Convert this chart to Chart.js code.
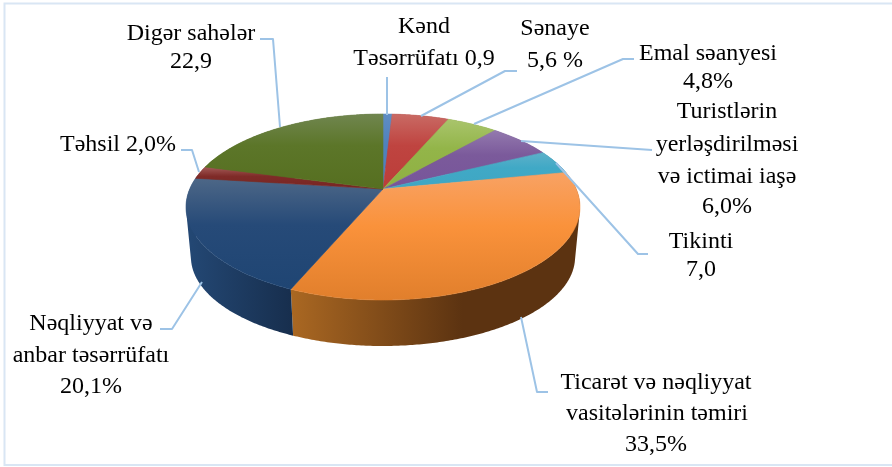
<!DOCTYPE html>
<html><head><meta charset="utf-8">
<script src="https://cdn.jsdelivr.net/npm/chart.js@4"></script>
<style>html,body{margin:0;padding:0;background:#fff;overflow:hidden}#w{position:absolute;left:0;top:0;width:892px;height:467px}</style>
</head><body><div id="w"><canvas id="c" width="892" height="467"></canvas></div>
<script>
const categories = ["Kənd Təsərrüfatı","Sənaye","Emal səanyesi","Turistlərin yerləşdirilməsi və ictimai iaşə","Tikinti","Ticarət və nəqliyyat vasitələrinin təmiri","Nəqliyyat və anbar təsərrüfatı","Təhsil","Digər sahələr"];
const sliceShares = [0.9,5.6,5.0,6.2,4.2,34.4,20.5,2.2,20.8];
const topLight = ["#5f8dc4","#c96a64","#a9c46c","#9379ae","#5db0c9","#f8a264","#4d6787","#a35a57","#70864f"];
const topMain  = ["#4f81bd","#bf4440","#93b549","#7b5a9b","#40a9c6","#fa923b","#264a78","#7f2b28","#5c7629"];
const topLow   = ["#4f81bd","#bb3d39","#8fb042","#77559a","#3fa6c3","#e17f2c","#1f4573","#772522","#566f20"];
const wallLeft = ["#2f5d90","#8c2f2c","#6f8a35","#5c4375","#2e7f95","#a96722","#234773","#5e1f1d","#44591e"];
const wallRight= ["#2f5d90","#8c2f2c","#6f8a35","#5c4375","#2e7f95","#5c3311","#172e4d","#5e1f1d","#44591e"];
const labelLines = [
 ["Kənd",424,33],["Təsərrüfatı 0,9",424,65],
 ["Sənaye",555,35],["5,6 %",555,67],
 ["Emal səanyesi",708,60],["4,8%",708,88],
 ["Turistlərin",727,118],["yerləşdirilməsi",727,151],["və ictimai iaşə",727,183],["6,0%",727,213],
 ["Tikinti",701,248],["7,0",701,276],
 ["Ticarət və nəqliyyat",656,389],["vasitələrinin təmiri",657,420],["33,5%",656,451],
 ["Nəqliyyat və",91,330],["anbar təsərrüfatı",91,362],["20,1%",91,393],
 ["Digər sahələr",191,40],["22,9",191,68],
 ["Təhsil 2,0%",118,151]
];
const leaderLines = [
 [[260,39],[273,39],[280,127]],
 [[387,77],[387,115]],
 [[517,71],[505,71],[421,116]],
 [[634,59],[623,59],[474,124]],
 [[652,150],[521,141]],
 [[648,254],[638,254],[556,163]],
 [[548,392],[537,392],[521,317]],
 [[160,329],[172,329],[202,282]],
 [[181,150],[192,150],[199,172]]
];
const persp = -0.1935, semiY = 93/197, apexUp = 18/197, wallDrop = 50/197, wallSX = 0.975, wallSY = 0.957;

function projector(el){
  const Rx = el.outerRadius*Math.sqrt(1-persp*persp);
  const k = (el.outerRadius*semiY + el.outerRadius*apexUp)*(1+persp);
  const cy = el.y - el.outerRadius*apexUp;
  return (a)=>{
    const th = a+Math.PI/2, u=Math.sin(th), v=-Math.cos(th), d=1+persp*v;
    return [el.x+Rx*u/d, cy+k*v/d];
  };
}
function rim(el){
  const p=projector(el), pts=[], n=Math.max(3,Math.ceil((el.endAngle-el.startAngle)/0.01));
  for(let i=0;i<=n;i++) pts.push(p(el.startAngle+(el.endAngle-el.startAngle)*i/n));
  return pts;
}
function area(q){
  let s=0;
  q.forEach((a,i)=>{const b=q[(i+1)%q.length]; s+=a[0]*b[1]-b[0]*a[1];});
  return s;
}
const pie3d = {
  id:'pie3d',
  beforeDraw(chart){
    const c=chart.ctx; c.save();
    c.strokeStyle='#d9e6f4'; c.lineWidth=2;
    c.beginPath(); c.moveTo(892,3.5); c.lineTo(4.5,3.5); c.lineTo(4.5,465); c.lineTo(892,465); c.stroke();
    c.restore();
  },
  beforeDatasetDraw(chart){
    const c=chart.ctx, arcs=chart.getDatasetMeta(0).data;
    c.save();
    arcs.forEach((el,i)=>{
      const r=el.outerRadius, top=rim(el);
      const low=top.map(([x,y])=>[el.x+(x-el.x)*wallSX, el.y+r*wallDrop+(y-el.y)*wallSY]);
      const xs=low.map(q=>q[0]);
      const minX=Math.min(...xs), maxX=Math.max(...xs);
      const g=c.createLinearGradient(minX,0,minX+(maxX-minX)*(i===5?0.6:1),0);
      g.addColorStop(0,wallLeft[i]); g.addColorStop(1,wallRight[i]);
      c.beginPath();
      for(let j=0;j<top.length-1;j++){
        let q=[top[j],top[j+1],low[j+1],low[j]];
        if(area(q)<0) q=q.slice().reverse();
        q.forEach(([x,y],m)=>m?c.lineTo(x,y):c.moveTo(x,y));
        c.closePath();
      }
      c.fillStyle=g; c.fill('nonzero');
    });
    arcs.forEach((el,i)=>{
      const r=el.outerRadius, top=rim(el), ax=el.x, ay=el.y-r*apexUp;
      const ys=top.map(q=>q[1]).concat(ay);
      const y0=Math.min(...ys), y1=Math.max(...ys);
      const g=c.createLinearGradient(0,y0,0,y1);
      g.addColorStop(0,topLight[i]); g.addColorStop(0.42,topMain[i]); g.addColorStop(1,topLow[i]);
      c.beginPath(); c.moveTo(ax,ay);
      top.forEach(([x,y])=>c.lineTo(x,y));
      c.closePath(); c.fillStyle=g; c.fill();
      c.strokeStyle=g; c.lineWidth=0.6; c.stroke();
    });
    c.restore();
    return false;
  },
  afterDatasetsDraw(chart){
    const c=chart.ctx; c.save();
    c.strokeStyle='#9dc3e6'; c.lineWidth=2; c.lineJoin='round';
    leaderLines.forEach(l=>{c.beginPath();l.forEach(([x,y],j)=>j?c.lineTo(x,y):c.moveTo(x,y));c.stroke();});
    c.fillStyle='#000'; c.font='24px "Liberation Serif"'; c.textAlign='center'; c.textBaseline='alphabetic';
    labelLines.forEach(([t,x,y])=>c.fillText(t,x,y));
    c.restore();
  }
};
new Chart(document.getElementById('c'),{
  type:'pie',
  data:{labels:categories,datasets:[{data:sliceShares,borderWidth:0,backgroundColor:topMain}]},
  options:{responsive:false,animation:false,rotation:0,
    layout:{padding:{left:0,right:126,top:10,bottom:63}},
    plugins:{legend:{display:false},tooltip:{enabled:false}}},
  plugins:[pie3d]
});
</script></body></html>
